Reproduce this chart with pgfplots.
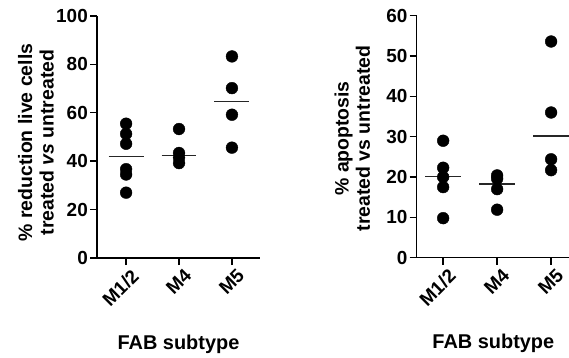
\documentclass[border=0pt]{standalone}
\usepackage{pgfplots}
\pgfplotsset{compat=1.18}
\usepackage{fontspec}
\setmainfont{Liberation Sans}
\begin{document}
\begin{tikzpicture}
\useasboundingbox (0,0) rectangle (569bp,358bp);
\pgfplotsset{
 myax/.style={
  scale only axis, anchor=south west,
  axis lines=left, axis line style={-, line width=1.4bp},
  tick align=outside, major tick length=7bp,
  tick style={line width=1.4bp, black},
  xtick={0,1,2}, xticklabels={M1/2,M4,M5},
  x tick label style={rotate=45, anchor=north east, font=\bfseries\fontsize{19}{19}\selectfont, inner sep=1bp, yshift=-4bp, xshift=2bp},
  y tick label style={font=\bfseries\fontsize{19}{19}\selectfont, inner sep=2bp},
  /pgf/number format/assume math mode=true,
  xlabel={FAB subtype},
  xlabel style={font=\bfseries\fontsize{20}{20}\selectfont, at={(axis description cs:0.5,0)}, anchor=center, yshift=-86bp},
  ylabel style={font=\bfseries\fontsize{19.5}{21.5}\selectfont, align=center, anchor=center},
  clip=false, ymin=0, height=242bp,
 },
 dots/.style={only marks, mark=*, mark size=5.9bp, black},
 med/.style={black!85, line width=1.3bp},
}
% Left panel
\begin{axis}[myax, at={(97bp,100bp)}, width=163bp,
  xmin=-0.55, xmax=2.53, ymax=100, ytick={0,20,40,60,80,100},
  ylabel={\% reduction live cells\\treated \textit{vs} untreated},
  ylabel style={at={(axis description cs:-0.375,0.477)}}]
\addplot[med] coordinates {(-0.33,41.9) (0.33,41.9)};
\addplot[med] coordinates {(0.67,42.4) (1.33,42.4)};
\addplot[med] coordinates {(1.67,64.6) (2.33,64.6)};
\addplot[dots] coordinates {(0,55.5) (0,51.3) (0,47.2) (0,36.7) (0,34.5) (0,27.0)};
\addplot[dots] coordinates {(1,53.3) (1,43.4) (1,41.4) (1,39.2)};
\addplot[dots] coordinates {(2,83.3) (2,70.2) (2,59.2) (2,45.6)};
\end{axis}
% Right panel
\begin{axis}[myax, at={(416.7bp,100.3bp)}, width=153.3bp,
  xmin=-0.49, xmax=2.35, ymax=60, ytick={0,10,20,30,40,50,60},
  ylabel={\% apoptosis\\treated vs untreated},
  ylabel style={at={(axis description cs:-0.42,0.493)}}]
\addplot[med] coordinates {(-0.33,20.1) (0.33,20.1)};
\addplot[med] coordinates {(0.67,18.3) (1.33,18.3)};
\addplot[med] coordinates {(1.67,30.2) (2.35,30.2)};
\addplot[dots] coordinates {(0,29.0) (0,22.3) (0,20.0) (0,17.5) (0,9.8)};
\addplot[dots] coordinates {(1,20.4) (1,19.6) (1,17.0) (1,11.9)};
\addplot[dots] coordinates {(2,53.6) (2,36.0) (2,24.4) (2,21.7)};
\end{axis}
\end{tikzpicture}
\end{document}
